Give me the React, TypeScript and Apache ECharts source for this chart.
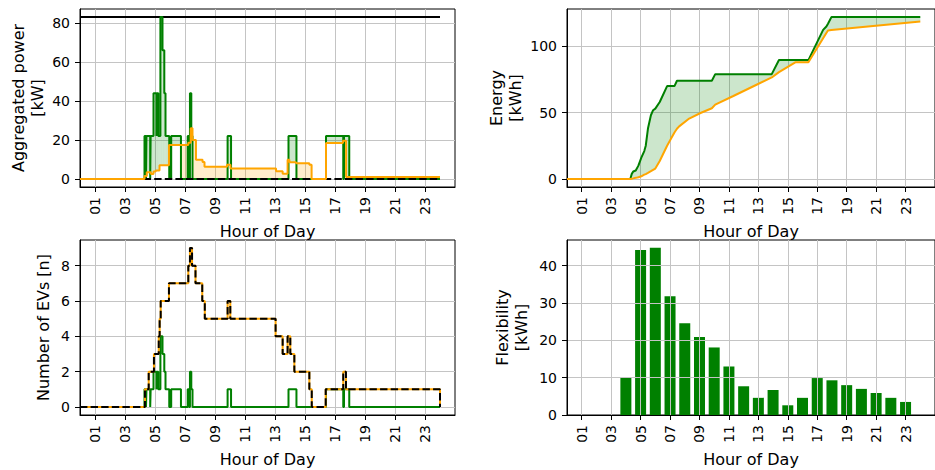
import React, { useEffect, useRef } from 'react';
import * as echarts from 'echarts';

const FONT = 'DejaVu Sans';
const GREEN = '#008000';
const ORANGE = '#FFA500';
const GREEN_FILL = 'rgba(0,128,0,0.2)';
const ORANGE_FILL = 'rgba(255,165,0,0.2)';

// Hour-of-day ticks shared by every panel
const hourTicks = [1, 3, 5, 7, 9, 11, 13, 15, 17, 19, 21, 23];
const hourTickLabels = ['01', '03', '05', '07', '09', '11', '13', '15', '17', '19', '21', '23'];

// Aggregated power panel
const powerTicks = [0, 20, 40, 60, 80];
const powerLimitHours = [0, 24];
const powerLimit = [83, 83];
const baselineHours = [0, 24];
const baseline = [0, 0];

// Step changes of the uncontrolled charging (count of EVs charging and resulting power)
const chargingHours = [0, 4.3, 4.4, 4.43, 4.68, 4.71, 4.9, 5.1, 5.13, 5.22, 5.36, 5.5, 5.62, 5.7, 5.95, 6.08, 6.73, 7.18, 7.27, 7.33, 7.42, 7.5, 9.84, 10.07, 13.9, 14.43, 16.4, 17.55, 17.6, 17.95, 24];
const chargingCount = [0, 1, 0, 1, 0, 1, 2, 1, 2, 1, 4, 3, 2, 1, 0, 1, 0, 1, 0, 2, 1, 0, 1, 0, 1, 0, 1, 0, 1, 0, 0];
const chargingPower = [0, 22, 0, 22, 0, 22, 44, 22, 44, 22, 83, 66, 44, 22, 0, 22, 0, 22, 0, 44, 22, 0, 22, 0, 22, 0, 22, 0, 22, 0, 0];

// Step changes of the scheduled (smart) charging power
const scheduledHours = [0, 4.3, 4.45, 4.73, 4.9, 5.05, 5.3, 5.93, 7.22, 7.38, 7.5, 7.73, 8.17, 8.3, 9.8, 10.03, 13.07, 13.51, 13.84, 13.96, 14.4, 15.29, 15.44, 16.4, 17.53, 17.74, 24];
const scheduledPower = [0, 1.5, 3.4, 2.5, 3.8, 4.3, 7.0, 17.4, 18.5, 26, 20, 9.8, 8.7, 6.2, 7.3, 5.3, 3.9, 2.6, 9.8, 8.5, 8.0, 7.3, 0, 18.4, 19.6, 1.0, 1.0];

// Energy panel
const energyTicks = [0, 50, 100];
const energyHours = [0, 4.3, 4.4, 4.5, 4.67, 4.85, 5.05, 5.25, 5.35, 5.5, 5.7, 5.85, 6.0, 6.3, 6.8, 7.1, 7.3, 7.47, 7.62, 8.3, 9.07, 9.84, 10.07, 11.3, 12.84, 13.91, 14.4, 15.51, 16.4, 17.4, 17.62, 17.73, 17.96, 24];
const energyMax = [0, 0, 3.8, 5.6, 6.3, 10, 16, 21, 25, 38, 48, 51.8, 53, 58, 70, 70, 70, 74, 74, 74, 74, 74, 79, 79, 79, 79, 89.6, 89.6, 89.6, 112.4, 114.9, 117, 122, 122];
const energyScheduled = [0, 0, 0.2, 0.4, 0.8, 1.3, 2, 3.2, 3.6, 4.5, 5.8, 6.8, 7.8, 13.5, 25, 31, 35, 37.8, 39.6, 45.5, 49.7, 53.3, 56, 62.5, 70.8, 76.5, 80.5, 87.9, 87.9, 106, 110, 111.9, 112.2, 118.7];

// Number of EVs panel
const evTicks = [0, 2, 4, 6, 8];
const connectedHours = [0, 4.33, 4.58, 4.93, 5.25, 5.31, 5.38, 5.93, 7.22, 7.33, 7.47, 7.7, 8.15, 8.32, 9.84, 10.02, 13.04, 13.51, 13.84, 14.02, 14.29, 15.29, 15.45, 16.38, 17.55, 17.73, 24];
const connectedCount = [0, 1, 2, 3, 4, 5, 6, 7, 8, 9, 8, 7, 6, 5, 6, 5, 4, 3, 4, 3, 2, 1, 0, 1, 2, 1, 0];

// Flexibility panel
const flexTicks = [0, 10, 20, 30, 40];
const flexHours = [0, 1, 2, 3, 4, 5, 6, 7, 8, 9, 10, 11, 12, 13, 14, 15, 16, 17, 18, 19, 20, 21, 22, 23];
const flexValues = [0, 0, 0, 0, 10, 44.2, 44.8, 31.8, 24.6, 20.9, 18.1, 13.0, 7.7, 4.6, 6.7, 2.6, 4.6, 9.9, 9.3, 8.0, 7.0, 5.9, 4.6, 3.5];

const pairs = (xs: number[], ys: number[]) => xs.map((x, i) => [x, ys[i]]);

const stepAt = (hours: number[], values: number[], t: number) => {
  let v = values[0];
  for (let i = 0; i < hours.length; i++) if (hours[i] <= t) v = values[i];
  return v;
};

// Segments between uncontrolled and scheduled power: [start, end, uncontrolled, scheduled]
const powerSegments = (() => {
  const hs = Array.from(new Set([...chargingHours, ...scheduledHours])).sort((a, b) => a - b);
  const out: number[][] = [];
  for (let i = 0; i < hs.length - 1; i++) {
    out.push([hs[i], hs[i + 1], stepAt(chargingHours, chargingPower, hs[i]), stepAt(scheduledHours, scheduledPower, hs[i])]);
  }
  return out;
})();

const tickText = { color: '#000', fontFamily: FONT, fontSize: 14 };
const nameText = { color: '#000', fontFamily: FONT, fontSize: 16, lineHeight: 19 };
const gridLine = { show: true, lineStyle: { color: '#c4c4c4', width: 1 } };

function hourAxis(gridIndex: number, z = 0) {
  return {
    type: 'value', gridIndex, min: 0, max: 25, z,
    name: 'Hour of Day', nameLocation: 'middle', nameGap: 35, nameTextStyle: nameText,
    axisLine: { show: true, onZero: false, lineStyle: { color: '#000', width: 1 } },
    axisTick: { show: true, customValues: hourTicks, length: 5, lineStyle: { color: '#000', width: 1 } },
    axisLabel: {
      show: true, customValues: hourTicks, rotate: 90, margin: 10, ...tickText,
      formatter: (v: number) => hourTickLabels[hourTicks.indexOf(v)] ?? '',
    },
    splitLine: gridLine,
  };
}

function valueAxis(gridIndex: number, min: number, max: number, ticks: number[], name: string, nameGap: number, z = 0) {
  return {
    type: 'value', gridIndex, min, max, z,
    name, nameLocation: 'middle', nameRotate: 90, nameGap, nameTextStyle: nameText,
    axisLine: { show: true, onZero: false, lineStyle: { color: '#000', width: 1 } },
    axisTick: { show: true, customValues: ticks, length: 5, lineStyle: { color: '#000', width: 1 } },
    axisLabel: { show: true, customValues: ticks, margin: 10, ...tickText },
    splitLine: gridLine,
  };
}

const line = (x: number, y: number, data: number[][], color: string, extra: any = {}) => ({
  type: 'line', xAxisIndex: x, yAxisIndex: y, data, symbol: 'none', silent: true,
  lineStyle: { color, width: 2, ...(extra.lineStyle || {}) },
  ...extra,
  ...(extra.lineStyle ? { lineStyle: { color, width: 2, ...extra.lineStyle } } : {}),
});

const gridFrame = { show: true, borderColor: '#000', borderWidth: 1, backgroundColor: 'transparent' };

const option: any = {
  animation: false,
  textStyle: { fontFamily: FONT },
  grid: [
    { left: 80, top: 9, width: 375, height: 178, ...gridFrame },
    { left: 567, top: 9, width: 375, height: 178, ...gridFrame },
    { left: 80, top: 240, width: 375, height: 177, ...gridFrame },
    { left: 567, top: 240, width: 375, height: 177, ...gridFrame },
  ],
  xAxis: [hourAxis(0), hourAxis(1), hourAxis(2), hourAxis(3, 5)],
  yAxis: [
    valueAxis(0, -4.15, 87.15, powerTicks, 'Aggregated power\n[kW]', 33),
    valueAxis(1, -6.1, 128.1, energyTicks, 'Energy\n[kWh]', 42),
    valueAxis(2, -0.45, 9.45, evTicks, 'Number of EVs [n]', 27),
    valueAxis(3, 0, 46.9, flexTicks, 'Flexibility\n[kWh]', 36, 5),
  ],
  series: [
    {
      type: 'custom', xAxisIndex: 0, yAxisIndex: 0, silent: true,
      data: powerSegments,
      encode: { x: [0, 1], y: [2, 3] },
      renderItem: (_p: any, api: any) => {
        const t0 = api.value(0), t1 = api.value(1), g = api.value(2), o = api.value(3);
        if (g === o) return null;
        const a = api.coord([t0, Math.max(g, o)]);
        const b = api.coord([t1, Math.min(g, o)]);
        return {
          type: 'rect',
          shape: { x: a[0], y: a[1], width: b[0] - a[0], height: b[1] - a[1] },
          style: { fill: g > o ? GREEN_FILL : ORANGE_FILL },
        };
      },
    },
    line(0, 0, pairs(powerLimitHours, powerLimit), '#000'),
    line(0, 0, pairs(chargingHours, chargingPower), GREEN, { step: 'end' }),
    line(0, 0, pairs(baselineHours, baseline), '#000', { lineStyle: { type: [7.4, 3.2] } }),
    line(0, 0, pairs(scheduledHours, scheduledPower), ORANGE, { step: 'end' }),
    {
      type: 'custom', xAxisIndex: 1, yAxisIndex: 1, silent: true,
      data: [[12, 60]],
      encode: { x: 0, y: 1 },
      renderItem: (_p: any, api: any) => {
        const upper = energyHours.map((h, i) => api.coord([h, energyMax[i]]));
        const lower = energyHours.map((h, i) => api.coord([h, energyScheduled[i]])).reverse();
        return { type: 'polygon', shape: { points: upper.concat(lower) }, style: { fill: GREEN_FILL } };
      },
    },
    line(1, 1, pairs(energyHours, energyMax), GREEN),
    line(1, 1, pairs(energyHours, energyScheduled), ORANGE),
    line(2, 2, pairs(chargingHours, chargingCount), GREEN, { step: 'end' }),
    line(2, 2, pairs(connectedHours, connectedCount), ORANGE, { step: 'end' }),
    line(2, 2, pairs(connectedHours, connectedCount), '#000', { step: 'end', lineStyle: { type: [7.4, 3.2] } }),
    {
      type: 'bar', xAxisIndex: 3, yAxisIndex: 3, silent: true,
      data: pairs(flexHours, flexValues),
      barWidth: 11,
      itemStyle: { color: GREEN },
    },
  ],
};

export default function App() {
  const ref = useRef<HTMLDivElement>(null);
  useEffect(() => {
    const chart = echarts.init(ref.current!, null, { renderer: 'svg' });
    chart.setOption(option);
    return () => chart.dispose();
  }, []);
  return <div ref={ref} style={{ position: 'absolute', left: 0, top: 0, width: 935, height: 470 }} />;
}
